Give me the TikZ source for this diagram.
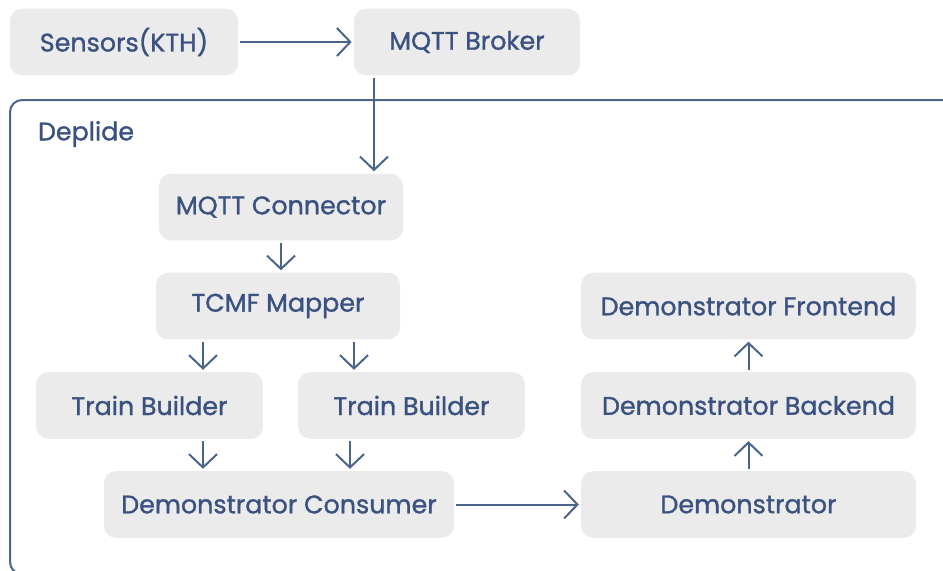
\documentclass[tikz,border=0pt]{standalone}
\usepackage{fontspec}
\setmainfont{Poppins}[FakeBold=1.2,UprightFeatures={FakeBold=1.2}]
\usetikzlibrary{arrows.meta,calc}

\definecolor{boxgrey}{RGB}{235,235,235}
\definecolor{txtblue}{RGB}{59,82,129}
\definecolor{lineblue}{RGB}{74,101,138}

\tikzset{every picture/.style={line width=1.5pt}}
\tikzset{
  blk/.style={rounded corners=9pt, fill=boxgrey, text=txtblue, minimum height=50pt, inner sep=0pt, font=\fontsize{19}{22}\selectfont},
  arr/.style={draw=lineblue, -{Straight Barb[length=10pt,width=21pt,line width=1.5pt]}, shorten <=1pt, shorten >=1pt}
}

\begin{document}
\begin{tikzpicture}[x=0.75pt,y=0.75pt,yscale=-1,xscale=1]
\useasboundingbox (0,0) rectangle (943,571);

%Frame [Deplide]
\draw [draw=lineblue, rounded corners=9pt] (960,100) -- (10,100) -- (10,574) -- (960,574);
% Text Node
\node (deplide) at (36,134) [anchor=west, inner sep=0.75pt, text=txtblue, font=\fontsize{19}{22}\selectfont] {Deplide};

%Boxes
\node (sens) at (124,42) [blk, minimum width=171pt] {Sensors(KTH)};
\node (broker) at (467,42) [blk, minimum width=169.5pt] {MQTT Broker};
\node (conn) at (281,207) [blk, minimum width=183pt] {MQTT Connector};
\node (tcmf) at (278,306) [blk, minimum width=183pt] {TCMF Mapper};
\node (tbone) at (149.5,405.5) [blk, minimum width=170pt] {Train Builder};
\node (tbtwo) at (411.5,405.5) [blk, minimum width=170pt] {Train Builder};
\node (cons) at (279,504.5) [blk, minimum width=262.5pt] {Demonstrator Consumer};
\node (demo) at (748.5,504.5) [blk, minimum width=251pt] {Demonstrator};
\node (back) at (748.5,405.5) [blk, minimum width=251pt] {Demonstrator Backend};
\node (front) at (748.5,306) [blk, minimum width=251pt] {Demonstrator Frontend};

%Arrows
\draw [arr] (sens) -- (broker);
\draw [arr] ($(broker.south west)+(21,0)$) coordinate (bk) -- (bk |- conn.north);
\draw [arr] (conn.south) -- (conn.south |- tcmf.north);
\draw [arr] ($(tcmf.south)+(-75,0)$) coordinate (ta) -- (ta |- tbone.north);
\draw [arr] ($(tcmf.south)+(76,0)$) coordinate (tb) -- (tb |- tbtwo.north);
\draw [arr] ($(cons.north)+(-76,0)$) coordinate (ca) (ca |- tbone.south) -- (ca);
\draw [arr] ($(cons.north)+(71,0)$) coordinate (cb) (cb |- tbtwo.south) -- (cb);
\draw [arr] (cons) -- (demo);
\draw [arr] (demo.north) -- (back.south);
\draw [arr] (back.north) -- (front.south);

\end{tikzpicture}
\end{document}
